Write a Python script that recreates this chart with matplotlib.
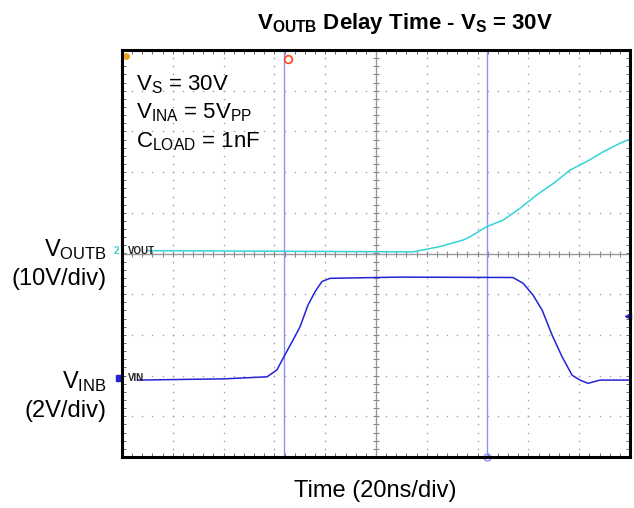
import numpy as np
import matplotlib
matplotlib.use("Agg")
import matplotlib.pyplot as plt

plt.rcParams["font.family"] = ["Liberation Sans", "DejaVu Sans"]
plt.rcParams["mathtext.fontset"] = "custom"
plt.rcParams["mathtext.rm"] = "Liberation Sans"
plt.rcParams["mathtext.it"] = "Liberation Sans"
plt.rcParams["mathtext.bf"] = "Liberation Sans:bold"

# === Traces (time in ns, amplitude in divisions) ===
vin_t = [-93.7, -60, -42.9, -39.0, -36.2, -32.7, -29.9, -26.8, -24.0, -21.3,
         -18.1, 9.4, 53.9, 57.9, 61.8, 65.4, 69.3, 73.2, 77.2, 80.3, 83.5,
         88.2, 100]
vin_v = [-3.11, -3.08, -3.03, -2.86, -2.53, -2.13, -1.80, -1.27, -0.94, -0.69,
         -0.61, -0.58, -0.59, -0.73, -1.02, -1.39, -2.00, -2.53, -2.99, -3.11,
         -3.19, -3.11, -3.11]

vout_t = [-89.8, 14.6, 25.2, 34.3, 37.0, 43.6, 50.1, 56.7, 63.3, 69.8, 76.4,
          83.0, 89.5, 96.1, 100]
vout_v = [0.07, 0.04, 0.17, 0.33, 0.41, 0.66, 0.82, 1.11, 1.44, 1.72, 2.05,
          2.26, 2.50, 2.71, 2.81]

cursor_t = [-36.2, 43.7]

# === Figure ===
fig = plt.figure(figsize=(6.34, 5.08), dpi=100)
ax = fig.add_axes([122 / 634, 1 - 457 / 508, 508 / 634, 407 / 508])
ax.set_xlim(-100, 100)
ax.set_ylim(-5, 5)

# grille pointillée façon oscilloscope
grid_col = "#a0a0a0"
for gx in np.arange(-80, 81, 20):
    if gx == 0:
        continue
    ys = np.arange(-5, 5.01, 0.2)
    ax.plot(np.full_like(ys, gx), ys, ls="none", marker="s", ms=1.0,
            mec="none", mfc=grid_col)
for gy in np.arange(-4, 4.1, 1):
    if gy == 0:
        continue
    xs = np.arange(-100, 100.1, 4)
    ax.plot(xs, np.full_like(xs, gy), ls="none", marker="s", ms=1.0,
            mec="none", mfc=grid_col)

# réticule central
ax.axhline(0, color="#9a9a9a", lw=1)
ax.axvline(0, color="#9a9a9a", lw=1)
xs = np.arange(-100, 100.1, 4)
ys = np.arange(-5, 5.01, 0.2)
ax.plot(xs, np.zeros_like(xs), ls="none", marker="|", ms=4, mew=0.8, color="#8a8a8a")
ax.plot(np.zeros_like(ys), ys, ls="none", marker="_", ms=4, mew=0.8, color="#8a8a8a")

# curseurs
for ct in cursor_t:
    ax.axvline(ct, color="#8f8fff", lw=1)

# traces
ax.plot(vout_t, vout_v, color="#35d3d8", lw=1.1)
ax.plot(vin_t, vin_v, color="#2323d6", lw=1.1)

# petits repères
ax.text(-97.8, 0.07, "VOUT", fontsize=7, fontweight="bold", va="center", color="#222222")
ax.text(-101.2, 0.07, "2", fontsize=7, fontweight="bold", va="center", ha="right",
        color="#35d3d8", clip_on=False)
ax.text(-97.8, -3.05, "VIN", fontsize=7, fontweight="bold", va="center", color="#222222")
ax.plot([-101.3], [-3.05], marker="s", ms=4.5, color="#2323d6", clip_on=False)
ax.plot([-98.5], [4.85], marker="o", ms=4, color="#f0a020", clip_on=False)
ax.plot([-34.6], [4.78], marker="o", ms=5.5, mfc="none", mec="#ff5020", mew=1.3)
ax.plot([43.7], [-5], marker="o", ms=5, mfc="none", mec="#8f8fff", mew=1, clip_on=False)
ax.plot([99.2], [-1.54], marker="<", ms=4, color="#2323d6", clip_on=False)

# cadre
for s in ax.spines.values():
    s.set_linewidth(2.2)
    s.set_color("black")
ax.set_xticks(np.arange(-100, 100.1, 4))
ax.set_yticks(np.arange(-5, 5.01, 0.2))
ax.tick_params(direction="in", length=3, width=0.7, color="#666666",
               top=True, right=True, labelbottom=False, labelleft=False)

# textes dans le graphe
ax.text(136 / 634, 1 - 90 / 508, r"V$_{\mathrm{S}}$ = 30V", transform=fig.transFigure,
        fontsize=16, va="baseline")
ax.text(136 / 634, 1 - 118.5 / 508, r"V$_{\mathrm{INA}}$ = 5V$_{\mathrm{PP}}$",
        transform=fig.transFigure, fontsize=16, va="baseline")
ax.text(136 / 634, 1 - 147 / 508, r"C$_{\mathrm{LOAD}}$ = 1nF", transform=fig.transFigure,
        fontsize=16, va="baseline")

# étiquettes
fig.text(405 / 634, 1 - 29 / 508, r"V$_{\mathbf{OUTB}}$ Delay Time - V$_{\mathbf{S}}$ = 30V",
         fontsize=16, fontweight="bold", ha="center", va="baseline")
fig.text(107 / 634, 1 - 256 / 508, r"V$_{\mathrm{OUTB}}$", fontsize=17, ha="right", va="baseline")
fig.text(107 / 634, 1 - 285 / 508, "(10V/div)", fontsize=17, ha="right", va="baseline")
fig.text(107 / 634, 1 - 388 / 508, r"V$_{\mathrm{INB}}$", fontsize=17, ha="right", va="baseline")
fig.text(107 / 634, 1 - 417 / 508, "(2V/div)", fontsize=17, ha="right", va="baseline")
fig.text(375 / 634, 1 - 497 / 508, "Time (20ns/div)", fontsize=17, ha="center", va="baseline")

fig.savefig("out.png", dpi=100)
